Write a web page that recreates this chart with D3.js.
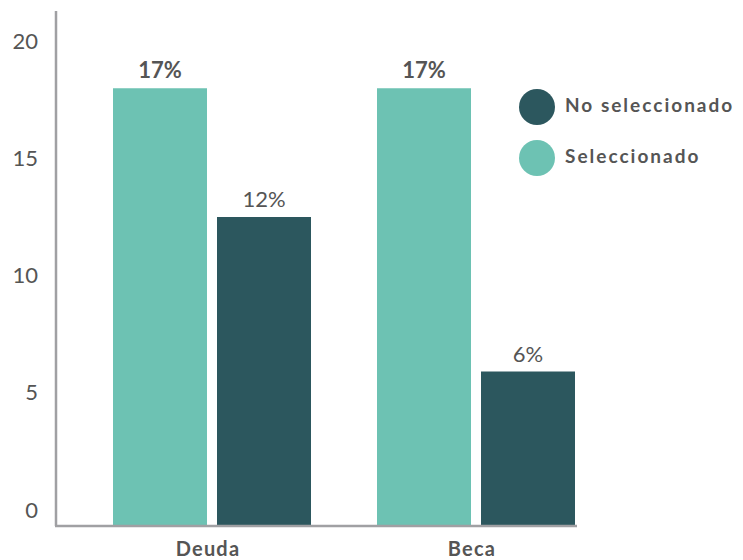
<!DOCTYPE html>
<html>
<head>
<meta charset="utf-8">
<script src="https://cdn.jsdelivr.net/npm/d3@7"></script>
<style>
  body { margin: 0; background: #fff; }
  text { font-family: Lato, "Noto Sans", sans-serif; fill: #555; }
</style>
</head>
<body>
<svg id="mainsvg" width="743" height="560"></svg>
<script>
// data
const categories = ['Deuda', 'Beca'];
const series = ['Seleccionado', 'No seleccionado'];
const seleccionado = [17, 17];
const noSeleccionado = [12, 6];
const valueLabels = [['17%', '12%'], ['17%', '6%']];
const yTicks = [0, 5, 10, 15, 20];

const colors = {'Seleccionado': '#6dc2b3', 'No seleccionado': '#2c575e'};

const svg = d3.select('#mainsvg');
const margin = {top: 11, left: 56, bottom: 34};
const plotBottom = 526;

const xScale = d3.scaleBand()
    .domain(categories)
    .range([80, 608])
    .paddingInner(0)
    .paddingOuter(0);

const xSub = d3.scaleBand()
    .domain(series)
    .range([0, 198])
    .paddingInner(10 / 104);

const yScale = d3.scaleLinear()
    .domain([0, 20])
    .range([plotBottom, margin.top]);

// tick labels sit a little off the bar scale in the source chart
const yLabelScale = d3.scaleLinear()
    .domain([0, 20])
    .range([510, 41]);

const g = svg.append('g');

// y tick labels
const yAxisG = g.append('g')
    .attr('transform', 'translate(38, 0)')
    .call(d3.axisLeft(yLabelScale).tickValues(yTicks).tickSize(0).tickPadding(0));
yAxisG.select('.domain').remove();
yAxisG.selectAll('.tick text')
    .attr('font-size', '22px')
    .attr('fill', '#555')
    .style('font-family', 'Lato, "Noto Sans", sans-serif');

const rows = categories.map((c, i) => ({
  cat: c,
  vals: [
    {s: 'Seleccionado', v: seleccionado[i], label: valueLabels[i][0]},
    {s: 'No seleccionado', v: noSeleccionado[i], label: valueLabels[i][1]}
  ]
}));

const groups = g.selectAll('.grp')
    .data(rows)
    .enter().append('g')
    .attr('class', 'grp')
    .attr('transform', d => `translate(${xScale(d.cat) + (xScale.bandwidth() - 198) / 2}, 0)`);

groups.selectAll('rect')
    .data(d => d.vals)
    .enter().append('rect')
    .attr('x', d => xSub(d.s))
    .attr('y', d => yScale(d.v))
    .attr('width', xSub.bandwidth())
    .attr('height', d => yScale(0) - yScale(d.v))
    .attr('fill', d => colors[d.s]);

groups.selectAll('.barValueText')
    .data(d => d.vals)
    .enter().append('text')
    .classed('barValueText', true)
    .attr('x', d => xSub(d.s) + xSub.bandwidth() / 2)
    .attr('y', d => yScale(d.v) - 10)
    .attr('text-anchor', 'middle')
    .attr('font-size', '22px')
    .attr('font-weight', d => d.s === 'Seleccionado' ? 'bold' : 'normal')
    .text(d => d.label);

// axes lines
g.append('line')
    .attr('x1', margin.left).attr('x2', margin.left)
    .attr('y1', margin.top).attr('y2', plotBottom)
    .attr('stroke', '#a0a0a3').attr('stroke-width', 2.5);
g.append('line')
    .attr('x1', margin.left - 1).attr('x2', 577)
    .attr('y1', plotBottom).attr('y2', plotBottom)
    .attr('stroke', '#a0a0a3').attr('stroke-width', 2.5);

// category labels
g.selectAll('.catLabel')
    .data(categories)
    .enter().append('text')
    .attr('class', 'catLabel')
    .attr('x', d => xScale(d) + xScale.bandwidth() / 2 - 4)
    .attr('y', 556)
    .attr('text-anchor', 'middle')
    .attr('font-size', '20px')
    .attr('font-weight', 'bold')
    .attr('letter-spacing', '1.2px')
    .text(d => d);

// legend
const legendItems = ['No seleccionado', 'Seleccionado'];
const legend = g.selectAll('.legend')
    .data(legendItems)
    .enter().append('g')
    .attr('class', 'legend')
    .attr('transform', (d, i) => `translate(537, ${107 + i * 51})`);
legend.append('circle')
    .attr('r', 18)
    .attr('fill', d => colors[d]);
legend.append('text')
    .attr('x', 28)
    .attr('y', -2)
    .attr('dy', '0.35em')
    .attr('font-size', '19px')
    .attr('font-weight', 'bold')
    .attr('letter-spacing', '2px')
    .text(d => d);
</script>
</body>
</html>
